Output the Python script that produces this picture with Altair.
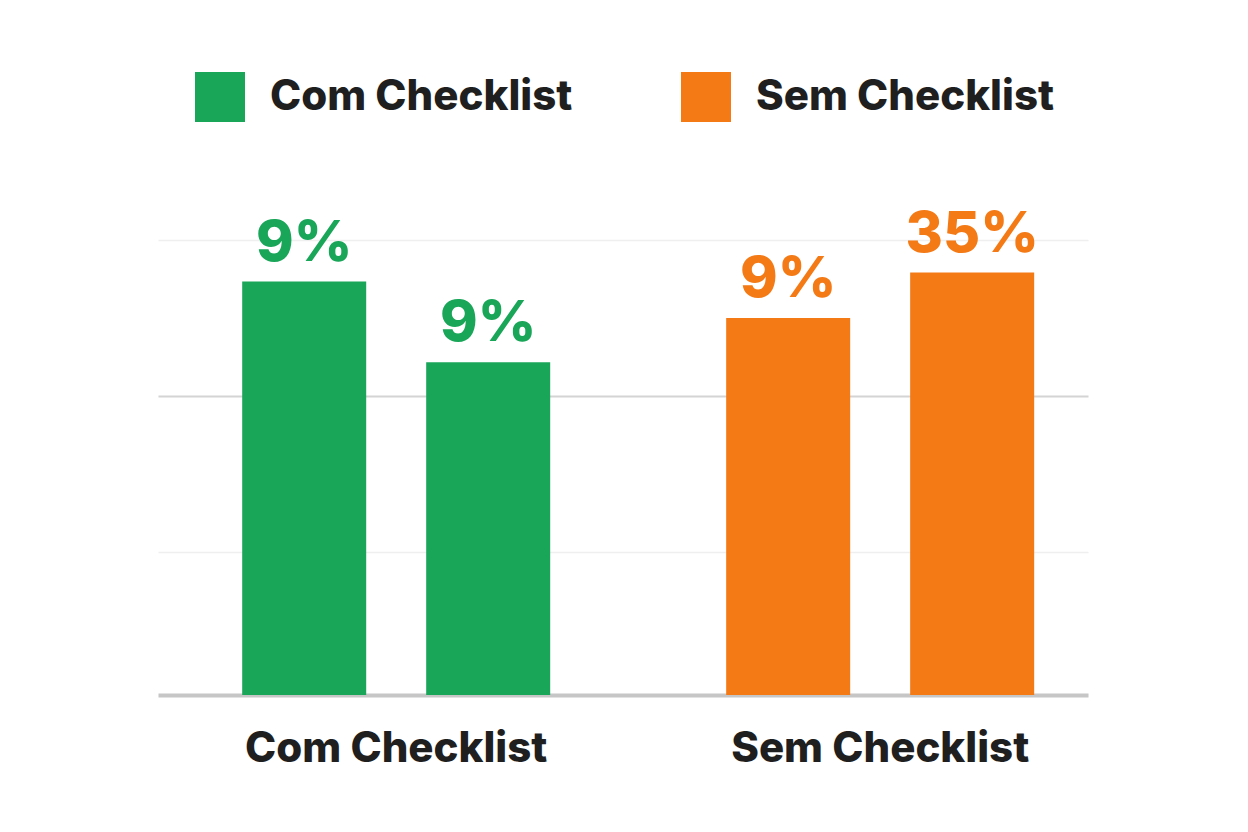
import altair as alt
import pandas as pd

groups = ["Com Checklist", "Com Checklist", "Sem Checklist", "Sem Checklist"]
members = ["1", "2", "1", "2"]
bar_heights = [31.8, 25.6, 29.0, 32.5]
bar_labels = ["9%", "9%", "9%", "35%"]
grid_values = [11, 23, 35]

df = pd.DataFrame({"grupo": groups, "item": members, "valor": bar_heights, "rotulo": bar_labels})

FONT = "Inter"
color_scale = alt.Scale(domain=["Com Checklist", "Sem Checklist"], range=["#19A659", "#F47A16"])

x_enc = alt.X(
    "grupo:N",
    title=None,
    scale=alt.Scale(paddingInner=0.3636, paddingOuter=0.1426, align=0.61),
    axis=alt.Axis(
        labelAngle=0, labelFontSize=42, labelFont=FONT, labelFontWeight=800,
        labelColor="#1f1f1f", labelPadding=33, ticks=False, labelLimit=600,
        domainColor="#c6c6c6", domainWidth=4, grid=False,
    ),
)
xo_enc = alt.XOffset("item:N", scale=alt.Scale(paddingInner=0.326, paddingOuter=0))
y_enc = alt.Y(
    "valor:Q",
    title=None,
    scale=alt.Scale(domain=[0, 40], nice=False),
    axis=alt.Axis(
        values=grid_values, labels=False, ticks=False, domain=False, grid=True,
        gridColor={"condition": {"test": "datum.value === 23", "value": "#d4d4d4"}, "value": "#efefef"},
        gridWidth={"condition": {"test": "datum.value === 23", "value": 2}, "value": 1.5},
    ),
)
color_enc = alt.Color(
    "grupo:N",
    scale=color_scale,
    legend=alt.Legend(
        title=None, orient="none", legendX=37, legendY=-103, direction="horizontal",
        symbolType="square", symbolSize=2500, symbolStrokeWidth=0,
        labelFontSize=42, labelFont=FONT, labelFontWeight=800, labelColor="#1f1f1f",
        labelOffset=25, columnPadding=108, padding=0, labelLimit=600,
    ),
)

base = alt.Chart(df)
bars = base.mark_bar().encode(x=x_enc, xOffset=xo_enc, y=y_enc, color=color_enc)
texts = base.mark_text(
    baseline="alphabetic", dy=-21, fontSize=57, font=FONT, fontWeight=800
).encode(x=x_enc, xOffset=xo_enc, y=y_enc, color=color_enc, text="rotulo:N")

chart = (
    alt.layer(bars, texts)
    .properties(
        width=930, height=520,
        autosize=alt.AutoSizeParams(type="none"),
        padding={"left": 150, "top": 167, "right": 100, "bottom": 120},
        background="white",
    )
    .configure_view(stroke=None)
)

chart.save("out.html", embed_options={"renderer": "svg", "actions": False})
